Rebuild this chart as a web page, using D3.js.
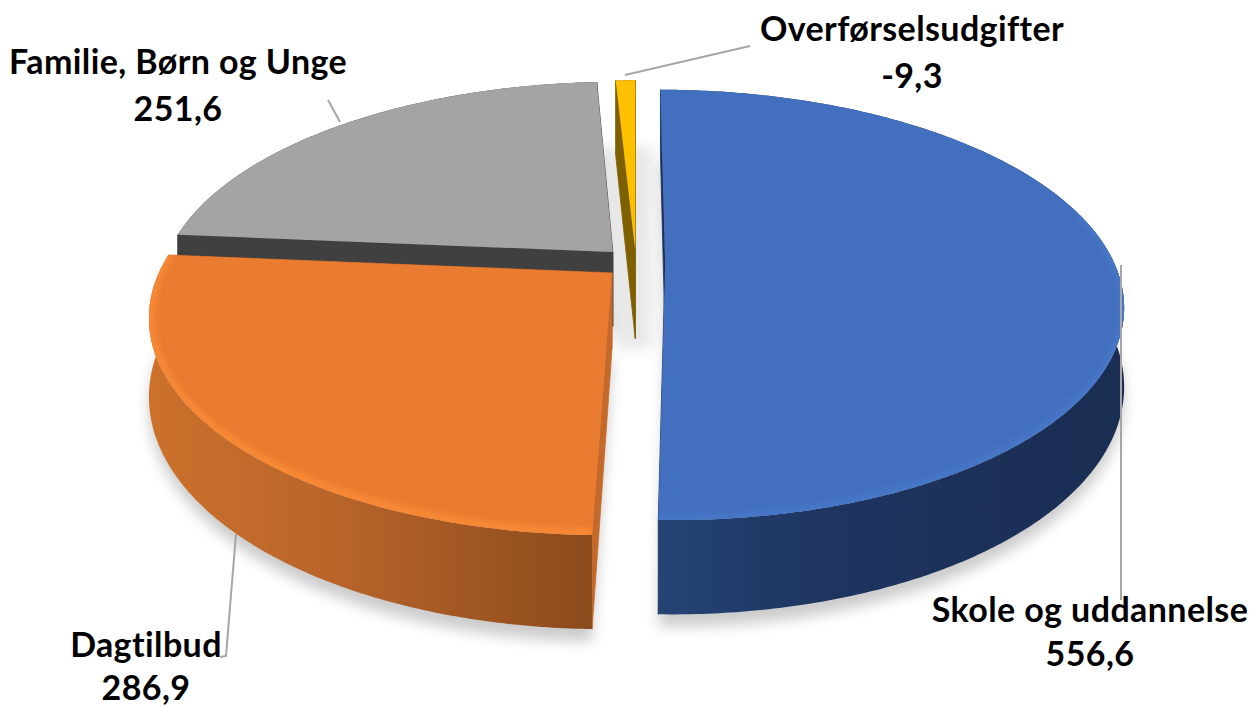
<!DOCTYPE html>
<html><head><meta charset="utf-8">
<script src="https://cdn.jsdelivr.net/npm/d3@7/dist/d3.min.js"></script>
<style>html,body{margin:0;padding:0;background:#fff}svg{display:block}
text{font-family:Lato,Carlito,"Open Sans",sans-serif;font-weight:700;font-size:34px;letter-spacing:0.4px;font-variant-ligatures:none;fill:#000;text-anchor:middle}</style>
</head><body><svg id="c" width="1259" height="706"></svg>
<script>
const categories=["Skole og uddannelse","Dagtilbud","Familie, Børn og Unge","Overførselsudgifter"];
const values=[556.6,286.9,251.6,-9.3];
const faceColors=["#4270BF","#E97C30","#A4A4A4","#FFC000"];
const sideColors=["#1B3158","#C5692B","#404040","#7F6000"];
const rimStops=[
  [["#254375",0],["#1E3560",0.35],["#1A2D52",1]],
  [["#CC712C",0],["#B9652A",0.4],["#8A4A1C",1]],
  [["#404040",0],["#404040",1]],
  [["#7F6000",0],["#7F6000",1]]];
const highlightColors=["#4676C6","#F68834",null,null];
const depths=[76,75,75,90];
const explosions=[0.065,0.071,0.075,0.065];
const labelPlaces=[[1090,622,666],[146,657,700],[178,74,121],[912,41,88]];
const leaders=[
  [[1121,265],[1121,600]],
  [[236,534],[226,656],[220,657]],
  [[340,122],[328,100]],
  [[625,75],[750,46]]];

const cx=636,cy=263,R=449,Ry=207,k=0.194;
const xs=d3.scaleLinear().domain([-1,1]).range([cx-R,cx+R]);
const ys=d3.scaleLinear().domain([-1,1]).range([cy-Ry,cy+Ry]);
const dec=d3.formatLocale({decimal:",",thousands:".",grouping:[3],currency:["","kr"],minus:"-"}).format(".1f");

const arcs=d3.pie().sort(null).value(d=>Math.abs(d))(values);
const svg=d3.select("#c");
const defs=svg.append("defs");
const blur=(id,s)=>defs.append("filter").attr("id",id).attr("x","-30%").attr("y","-30%").attr("width","160%").attr("height","160%")
  .append("feGaussianBlur").attr("stdDeviation",s);
blur("shadow",7);blur("soft",2);

arcs.forEach((a,i)=>{
  const g=defs.append("linearGradient").attr("id","rim"+i).attr("gradientUnits","userSpaceOnUse");
  const xsExt=i===0?[660,1125]:[150,600];
  g.attr("x1",xsExt[0]).attr("x2",xsExt[1]).attr("y1",0).attr("y2",0);
  rimStops[i].forEach(s=>g.append("stop").attr("offset",s[1]).attr("stop-color",s[0]));
});

function project(a,ang,r,drop){
  const mid=(a.startAngle+a.endAngle)/2,e=explosions[a.index];
  const X=r*Math.sin(ang)+e*Math.sin(mid);
  const Z=-r*Math.cos(ang)-e*Math.cos(mid);
  const s=1/(1-k*Z);
  return [xs(X*s),ys(Z*s)+drop*s];
}
const line=d3.line();
const angles=a=>{const n=Math.max(4,Math.ceil((a.endAngle-a.startAngle)/0.01));
  return d3.range(n+1).map(j=>a.startAngle+(a.endAngle-a.startAngle)*j/n);};
const sector=(a,drop)=>line([project(a,0,0,drop),...angles(a).map(t=>project(a,t,1,drop))])+"Z";

// soft ground shadow under every slice
const shadow=svg.append("g").attr("filter","url(#shadow)").attr("opacity",0.2);
arcs.forEach((a,i)=>shadow.append("path").attr("d",sector(a,depths[i]+10)).attr("fill","#000")
  .attr("stroke","#000").attr("stroke-width",i===3?34:0).attr("opacity",i===3?0.45:1));

arcs.forEach((a,i)=>defs.append("clipPath").attr("id","clip"+i).append("path").attr("d",sector(a,0)));

[2,3,1,0].forEach(i=>{
  const a=arcs[i],d=depths[i],g=svg.append("g");
  const edge=t=>line([project(a,0,0,0),project(a,t,1,0),project(a,t,1,d),project(a,0,0,d)])+"Z";
  g.append("path").attr("d",edge(a.startAngle)).attr("fill",sideColors[i]).attr("stroke",sideColors[i]).attr("stroke-width",0.8);
  g.append("path").attr("d",edge(a.endAngle)).attr("fill",sideColors[i]).attr("stroke",sideColors[i]).attr("stroke-width",0.8);
  const ts=angles(a);
  g.append("path").attr("d",line([...ts.map(t=>project(a,t,1,0)),...ts.slice().reverse().map(t=>project(a,t,1,d))])+"Z")
    .attr("fill",`url(#rim${i})`);
  g.append("path").attr("d",sector(a,0)).attr("fill",faceColors[i]);
  if(highlightColors[i]){
    g.append("g").attr("clip-path",`url(#clip${i})`).append("path")
      .attr("d",line(ts.filter(t=>Math.cos(t)<0.25).map(t=>project(a,t,1,-1))))
      .attr("fill","none").attr("stroke",highlightColors[i]).attr("stroke-width",i===1?12:9)
      .attr("filter","url(#soft)");
  }
});

leaders.forEach(p=>svg.append("path").attr("d",line(p)).attr("fill","none").attr("stroke","#A6A6A6").attr("stroke-width",2));

categories.forEach((c,i)=>{
  const [x,y1,y2]=labelPlaces[i];
  svg.append("text").attr("x",x).attr("y",y1).text(c);
  svg.append("text").attr("x",x).attr("y",y2).text(dec(values[i]));
});
</script></body></html>
